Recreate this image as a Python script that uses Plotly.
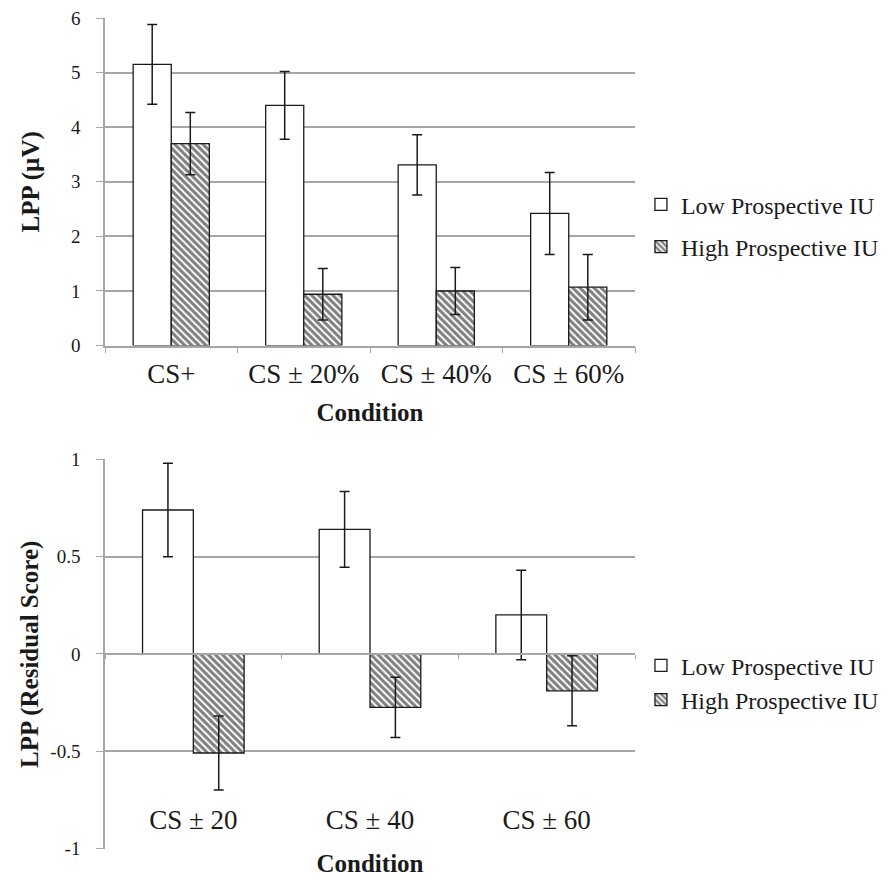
import plotly.graph_objects as go

# ---- data ----
top_categories = ["CS+", "CS ± 20%", "CS ± 40%", "CS ± 60%"]
top_low = [5.15, 4.40, 3.31, 2.42]
top_low_err = [0.73, 0.62, 0.55, 0.75]
top_high = [3.70, 0.94, 1.00, 1.07]
top_high_err = [0.57, 0.47, 0.43, 0.60]

bot_categories = ["CS ± 20", "CS ± 40", "CS ± 60"]
bot_low = [0.74, 0.64, 0.20]
bot_low_err = [0.24, 0.195, 0.23]
bot_high = [-0.51, -0.275, -0.19]
bot_high_err = [0.19, 0.155, 0.18]

series_names = ["Low Prospective IU", "High Prospective IU"]
top_yticks = [0, 1, 2, 3, 4, 5, 6]
bot_yticks = [-1, -0.5, 0, 0.5, 1]
bot_yticklabels = ["-1", "-0.5", "0", "0.5", "1"]

FONT = "Liberation Serif"
GRID = "#a6a6a6"
INK = "#1a1a1a"

low_marker = dict(color="white", line=dict(color=INK, width=1.3))
high_marker = dict(color="white", line=dict(color=INK, width=1.3),
                   pattern=dict(shape="\\", fgcolor="black", bgcolor="white",
                                size=5, solidity=0.6))
err_style = dict(type="data", color=INK, thickness=1.5, width=5)

fig = go.Figure()
fig.add_trace(go.Bar(x=top_categories, y=top_low, name=series_names[0],
                     marker=low_marker, error_y=dict(array=top_low_err, **err_style),
                     xaxis="x", yaxis="y", legend="legend", legendgroup="t_low"))
fig.add_trace(go.Bar(x=top_categories, y=top_high, name=series_names[1],
                     marker=high_marker, error_y=dict(array=top_high_err, **err_style),
                     xaxis="x", yaxis="y", legend="legend", legendgroup="t_high"))
fig.add_trace(go.Bar(x=bot_categories, y=bot_low, name=series_names[0],
                     marker=low_marker, error_y=dict(array=bot_low_err, **err_style),
                     xaxis="x2", yaxis="y2", legend="legend2", legendgroup="b_low"))
fig.add_trace(go.Bar(x=bot_categories, y=bot_high, name=series_names[1],
                     marker=high_marker, error_y=dict(array=bot_high_err, **err_style),
                     xaxis="x2", yaxis="y2", legend="legend2", legendgroup="b_high"))

tick_font = dict(family=FONT, size=19, color=INK)
cat_font = dict(family=FONT, size=27, color=INK)
title_font = dict(family=FONT, size=25, color=INK)
legend_font = dict(family=FONT, size=24, color=INK)

fig.update_layout(
    width=894, height=880,
    margin=dict(l=97, r=267, t=10, b=39),
    paper_bgcolor="white", plot_bgcolor="white",
    barmode="group", bargap=0.425, bargroupgap=0,
    font=dict(family=FONT, color=INK),
    xaxis=dict(domain=[0, 1], anchor="y", type="category", automargin=False,
               showline=True, linecolor=GRID, linewidth=1.5,
               ticks="outside", tickson="boundaries", ticklen=6, tickcolor=GRID,
               tickfont=cat_font, tickangle=0, ticklabelstandoff=3,
               title=dict(text="<b>Condition</b>", font=title_font, standoff=16),
               showgrid=False),
    yaxis=dict(domain=[0.6058, 1.0], anchor="x", range=[0, 6], automargin=False,
               tickvals=top_yticks, tickfont=tick_font, ticklabeloverflow="allow",
               showline=True, linecolor=GRID, linewidth=1.5,
               ticks="outside", ticklen=7, tickcolor=GRID, ticklabelstandoff=12,
               showgrid=True, gridcolor=GRID, gridwidth=1.5, zeroline=False,
               title=dict(text="<b>LPP (µV)</b>", font=title_font, standoff=24)),
    xaxis2=dict(anchor="free", position=0.234375, type="category", automargin=False,
                showline=True, linecolor=GRID, linewidth=1.5,
                ticks="outside", tickson="boundaries", ticklen=4, tickcolor=GRID,
                tickfont=cat_font, tickangle=0, ticklabelstandoff=142,
                title=dict(text="<b>Condition</b>", font=title_font, standoff=19),
                showgrid=False),
    yaxis2=dict(domain=[0, 0.46875], anchor="x2", range=[-1.004, 1], automargin=False,
                tickvals=bot_yticks, ticktext=bot_yticklabels, tickfont=tick_font,
                ticklabeloverflow="allow",
                showline=True, linecolor=GRID, linewidth=1.5,
                ticks="outside", ticklen=7, tickcolor=GRID, ticklabelstandoff=12,
                showgrid=True, gridcolor=GRID, gridwidth=1.5, zeroline=False,
                title=dict(text="<b>LPP (Residual Score)</b>", font=title_font, standoff=5)),
    legend=dict(xref="container", x=0.708, y=0.75, xanchor="left", yanchor="middle",
                font=legend_font, bgcolor="rgba(0,0,0,0)",
                traceorder="grouped", tracegroupgap=8),
    legend2=dict(xref="container", x=0.708, y=0.2, xanchor="left", yanchor="middle",
                 font=legend_font, bgcolor="rgba(0,0,0,0)",
                 traceorder="grouped", tracegroupgap=0),
)

fig.write_html("out.html")
